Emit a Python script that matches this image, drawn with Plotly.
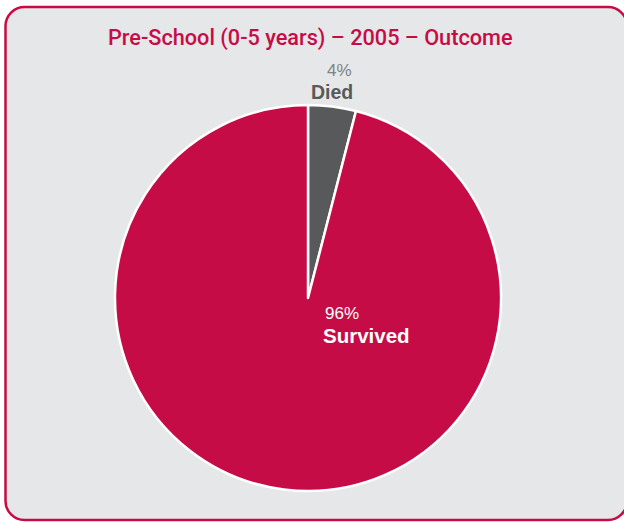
import plotly.graph_objects as go

# Outcome shares, pre-school children (0-5 years), 2005
outcomes = ["Died", "Survived"]
shares = [4, 96]
slice_colors = ["#58595b", "#c60c46"]

title_text = "Pre-School (0-5 years) – 2005 – Outcome"

W, H = 624, 522
CRIMSON = "#c60c46"
PANEL = "#e6e7e8"

# pie geometry in pixels
cx, cy, r = 308, 298, 193

fig = go.Figure()
fig.add_trace(go.Pie(
    labels=outcomes,
    values=shares,
    marker=dict(colors=slice_colors, line=dict(color="white", width=2.5)),
    sort=False,
    direction="clockwise",
    rotation=0,
    textinfo="none",
    hoverinfo="label+percent",
    showlegend=False,
    domain=dict(x=[(cx - r) / W, (cx + r) / W],
                y=[(H - cy - r) / H, (H - cy + r) / H]),
))

# rounded panel with crimson border
left, top, right, bottom, rad = 5.5, 7, 627, 520, 19
def px(x):
    return x / W
def py(y):
    return 1 - y / H
k = 0.45
path = (
    f"M {px(left+rad)},{py(top)} L {px(right-rad)},{py(top)} "
    f"C {px(right-rad*k)},{py(top)} {px(right)},{py(top+rad*k)} {px(right)},{py(top+rad)} "
    f"L {px(right)},{py(bottom-rad)} "
    f"C {px(right)},{py(bottom-rad*k)} {px(right-rad*k)},{py(bottom)} {px(right-rad)},{py(bottom)} "
    f"L {px(left+rad)},{py(bottom)} "
    f"C {px(left+rad*k)},{py(bottom)} {px(left)},{py(bottom-rad*k)} {px(left)},{py(bottom-rad)} "
    f"L {px(left)},{py(top+rad)} "
    f"C {px(left)},{py(top+rad*k)} {px(left+rad*k)},{py(top)} {px(left+rad)},{py(top)} Z"
)
fig.add_shape(type="path", path=path, xref="paper", yref="paper",
              fillcolor=PANEL, line=dict(color=CRIMSON, width=2.5), layer="below")

FONT = "Liberation Sans, Arial, sans-serif"
TITLE_FONT = "Roboto, Liberation Sans, Arial, sans-serif"

fig.add_annotation(x=px(310.5), y=py(38), xref="paper", yref="paper",
                   text=title_text, showarrow=False,
                   font=dict(family=TITLE_FONT, size=21.7, color=CRIMSON, weight=500),
                   xanchor="center", yanchor="middle")

# slice labels: percentage above the category name
label_pos = [((339, 70), (331.5, 91.5), "#808285", "#58595b", 19.5),
             ((341.5, 313), (366, 335.5), "#ffffff", "#ffffff", 20.5)]
for name, val, ((x1, y1), (x2, y2), c1, c2, s2) in zip(outcomes, shares, label_pos):
    fig.add_annotation(x=px(x1), y=py(y1), xref="paper", yref="paper",
                       text=f"{val}%", showarrow=False,
                       font=dict(family=FONT, size=17, color=c1),
                       xanchor="center", yanchor="middle")
    fig.add_annotation(x=px(x2), y=py(y2), xref="paper", yref="paper",
                       text=f"<b>{name}</b>", showarrow=False,
                       font=dict(family=FONT, size=s2, color=c2),
                       xanchor="center", yanchor="middle")

fig.update_layout(
    width=W, height=H,
    margin=dict(l=0, r=0, t=0, b=0),
    paper_bgcolor="white",
    plot_bgcolor="white",
)

fig.write_html("out.html")
